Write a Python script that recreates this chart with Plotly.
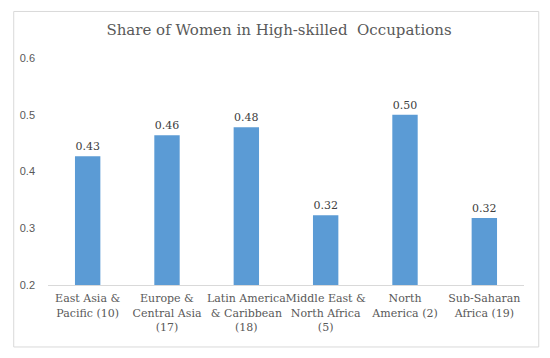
import plotly.graph_objects as go

categories = ["East Asia &<br>Pacific (10)", "Europe &<br>Central Asia<br>(17)",
              "Latin America<br>& Caribbean<br>(18)", "Middle East &<br>North Africa<br>(5)",
              "North<br>America (2)", "Sub-Saharan<br>Africa (19)"]
values = [0.427, 0.464, 0.478, 0.323, 0.500, 0.318]
y_ticks = [0.2, 0.3, 0.4, 0.5, 0.6]
y_tick_labels = ["0.2", "0.3", "0.4", "0.5", "0.6"]
title = "Share of Women in High-skilled  Occupations"

serif = "DejaVu Serif"
sans = "Liberation Sans"

fig = go.Figure(go.Bar(
    x=categories, y=values,
    marker=dict(color="#5B9BD5", line=dict(width=0)),
    text=[f"{v:.2f}" for v in values],
    textposition="outside",
    textfont=dict(family=serif, size=11, color="#404040"),
    cliponaxis=False,
))

fig.update_layout(
    width=542, height=350,
    margin=dict(l=38, r=26, t=50, b=73),
    paper_bgcolor="white", plot_bgcolor="white",
    bargap=0.68,
    showlegend=False,
    title=dict(text=title, x=0.5, xanchor="center", y=0.937, yanchor="middle",
               font=dict(family=serif, size=15, color="#595959")),
    xaxis=dict(showgrid=False, showline=True, linecolor="#d9d9d9", linewidth=1,
               ticks="", ticklabelstandoff=3,
               tickfont=dict(family=serif, size=11, color="#595959"),
               tickangle=0, fixedrange=True),
    yaxis=dict(range=[0.2, 0.6], tickvals=y_ticks, ticktext=y_tick_labels,
               showgrid=False, zeroline=False, showline=False, ticks="",
               ticklabelstandoff=12,
               tickfont=dict(family=sans, size=11, color="#595959")),
    shapes=[dict(type="rect", xref="paper", yref="paper",
                 x0=-0.072, x1=1.031, y0=-0.273, y1=1.205,
                 line=dict(color="#d9d9d9", width=1), fillcolor="rgba(0,0,0,0)",
                 layer="below")],
)

fig.write_html("out.html")
